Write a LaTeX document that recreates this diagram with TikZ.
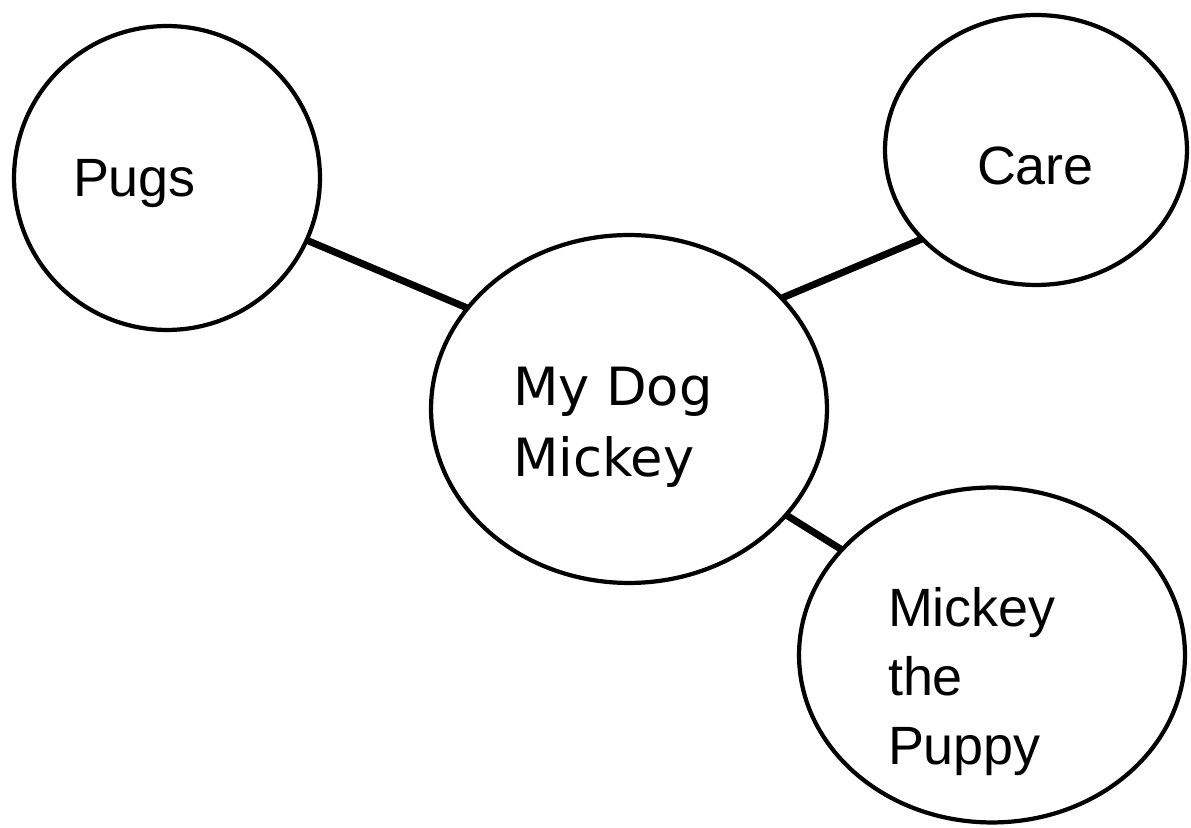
\documentclass[tikz,border=0pt]{standalone}
\usepackage{fontspec}
\setmainfont{Liberation Sans}
\newfontfamily\comicfont{DejaVu Sans}
\usetikzlibrary{shapes.geometric}
\begin{document}
\begin{tikzpicture}[x=0.02cm,y=0.02cm,
  bubble/.style={draw=black, line width=2.4pt, ellipse, inner sep=0pt, outer sep=0pt},
  link/.style={line width=4pt},
  lbl/.style={inner sep=0pt, outer sep=0pt, anchor=base west, align=left,
    font=\fontsize{30.7}{39.5}\selectfont},
  clbl/.style={inner sep=0pt, outer sep=0pt, anchor=base west, align=left,
    font=\comicfont\fontsize{30}{40.8}\selectfont}]
\useasboundingbox (0,0) rectangle (1191,828);
% ellipses (image y -> 828 - y)
\node[bubble, minimum width=6.12cm, minimum height=6.08cm] (pugs) at (167,650) {};
\node[bubble, minimum width=7.92cm, minimum height=6.96cm] (dog) at (629,419) {};
\node[bubble, minimum width=6.04cm, minimum height=5.40cm] (care) at (1036,678) {};
\node[bubble, minimum width=7.72cm, minimum height=6.70cm] (puppy) at (992,173) {};
% connectors
\draw[link] (pugs.-24.7) -- (dog.148.7);
\draw[link] (care.218.6) -- (dog.36);
\draw[link] (puppy.145.9) -- (dog.-34.9);
% labels (multi-line nodes: base = last line)
\node[lbl] (tpugs) at (73,631) {Pugs};
\node[lbl] (tcare) at (977,643) {Care};
\node[clbl] (tdog) at (513,351) {My Dog\\Mickey};
\node[lbl] (tpuppy) at (888,63) {Mickey\\the\\Puppy};
\end{tikzpicture}
\end{document}
